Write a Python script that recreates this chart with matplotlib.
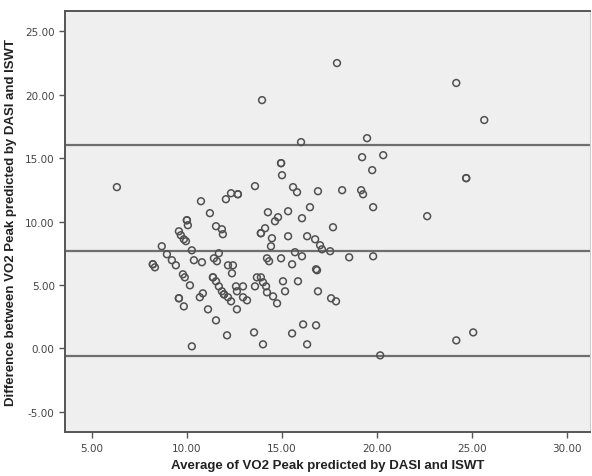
import numpy as np
import matplotlib.pyplot as plt

# Average of VO2 peak (x) and difference (y)
avg = [17.89, 24.16, 25.63, 13.95, 16.00, 19.47, 19.21, 20.32, 19.74, 24.68,
       24.68, 6.32, 13.58, 14.95, 14.95, 15.00, 15.58, 15.79, 16.89, 18.16,
       19.16, 19.26, 10.74, 11.21, 12.05, 12.32, 12.68, 12.68, 14.26, 14.79,
       14.63, 15.32, 16.47, 16.05, 17.68, 19.79, 22.63, 10.00, 10.00, 10.05,
       9.58, 9.68, 11.53, 11.84, 11.89, 13.89, 13.89, 14.11, 9.84, 9.95,
       14.47, 14.42, 15.32, 16.32, 16.74, 17.00, 17.10, 17.53, 15.68, 16.05,
       18.53, 19.79, 8.68, 8.95, 9.21, 9.42, 8.21, 8.21, 8.32, 10.26,
       10.37, 10.79, 11.42, 11.68, 11.58, 12.16, 12.42, 14.21, 14.32, 14.95,
       15.53, 16.79, 9.79, 9.89, 10.16, 9.58, 9.58, 9.84, 10.68, 10.84,
       11.11, 11.37, 11.37, 11.53, 11.68, 11.84, 11.95, 11.95, 12.16, 12.32,
       12.37, 12.58, 12.95, 12.63, 12.95, 13.16, 12.63, 13.68, 13.89, 14.00,
       13.58, 14.16, 14.21, 14.53, 14.74, 15.05, 15.16, 15.84, 16.84, 16.89,
       17.58, 17.84, 11.53, 12.11, 10.26, 16.11, 16.79, 15.53, 13.53, 14.00,
       16.32, 24.16, 25.05, 20.16]
diff = [22.49, 20.92, 18.00, 19.57, 16.26, 16.57, 15.07, 15.23, 14.05, 13.42,
        13.42, 12.71, 12.79, 14.60, 14.60, 13.65, 12.71, 12.31, 12.39, 12.47,
        12.47, 12.15, 11.60, 10.66, 11.76, 12.23, 12.15, 12.15, 10.73, 10.34,
        10.02, 10.81, 11.13, 10.26, 9.55, 11.13, 10.42, 10.10, 10.10, 9.71,
        9.23, 8.92, 9.63, 9.39, 9.00, 9.08, 9.08, 9.47, 8.60, 8.45,
        8.68, 8.05, 8.84, 8.84, 8.60, 8.13, 7.81, 7.66, 7.58, 7.26,
        7.18, 7.26, 8.05, 7.42, 6.95, 6.55, 6.63, 6.63, 6.39, 7.73,
        6.95, 6.79, 7.10, 7.50, 6.87, 6.55, 6.55, 7.10, 6.87, 7.10,
        6.63, 6.24, 5.84, 5.60, 4.97, 3.95, 3.95, 3.31, 4.03, 4.34,
        3.08, 5.60, 5.60, 5.29, 4.89, 4.50, 4.26, 4.26, 4.03, 3.71,
        5.92, 4.89, 4.89, 4.50, 4.03, 3.79, 3.08, 5.60, 5.60, 5.21,
        4.89, 4.89, 4.42, 4.10, 3.55, 5.29, 4.50, 5.29, 6.16, 4.50,
        3.95, 3.71, 2.21, 1.03, 0.16, 1.89, 1.82, 1.18, 1.26, 0.32,
        0.32, 0.63, 1.26, -0.55]

# mean difference and limits of agreement
upper_loa = 16.0
mean_diff = 7.66
lower_loa = -0.6

fig = plt.figure(figsize=(5.92, 4.77), dpi=100)
ax = fig.add_axes([0.110, 0.092, 0.887, 0.883])
ax.set_facecolor('#efefef')

for yv in [upper_loa, mean_diff, lower_loa]:
    ax.axhline(yv, color='#6e6e6e', lw=1.6, zorder=1)

ax.scatter(avg, diff, s=24, facecolors='none', edgecolors='#505050',
           linewidths=1.1, zorder=2)

ax.set_xlim(3.6, 31.2)
ax.set_ylim(-6.6, 26.6)
xt = [5, 10, 15, 20, 25, 30]
yt = [-5, 0, 5, 10, 15, 20, 25]
ax.set_xticks(xt)
ax.set_xticklabels(['%.2f' % v for v in xt])
ax.set_yticks(yt)
ax.set_yticklabels(['%.2f' % v for v in yt])
ax.tick_params(direction='out', length=4, width=1, color='#555555',
               labelsize=7.5, labelcolor='#444444')

for side in ['left', 'bottom', 'top']:
    ax.spines[side].set_color('#555555')
    ax.spines[side].set_linewidth(1.4)
ax.spines['right'].set_color('#cccccc')

ax.set_xlabel('Average of VO2 Peak predicted by DASI and ISWT',
              fontsize=9.5, fontweight='bold', family='Liberation Sans',
              color='#222222', labelpad=5)
ax.set_ylabel('Difference between VO2 Peak predicted by DASI and ISWT',
              fontsize=9.5, fontweight='bold', family='Liberation Sans',
              color='#222222', labelpad=6)

fig.savefig('out.png', dpi=100)
